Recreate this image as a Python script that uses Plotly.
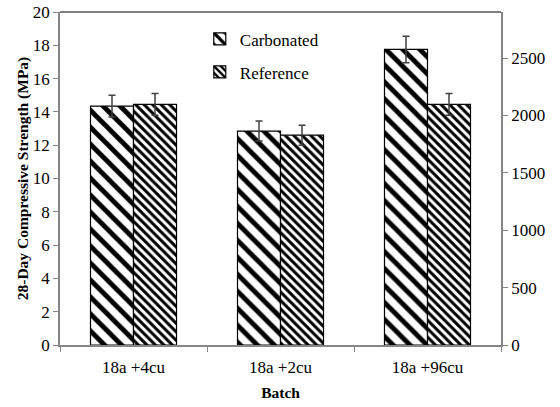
import plotly.graph_objects as go

batches = ["18a +4cu", "18a +2cu", "18a +96cu"]
carbonated = [14.35, 12.85, 17.75]
carbonated_err = [0.65, 0.6, 0.8]
reference = [14.45, 12.6, 14.45]
reference_err = [0.65, 0.6, 0.65]
psi_ticks = [0, 500, 1000, 1500, 2000, 2500]

FONT = "Liberation Serif"
GRAY = "#868686"

fig = go.Figure()
fig.add_trace(go.Bar(
    x=batches, y=carbonated, name="Carbonated", legendgroup="a",
    marker=dict(color="white", line=dict(color="black", width=1.2),
                pattern=dict(shape="\\", size=12, solidity=0.4, fgcolor="black", bgcolor="white",
                             fgopacity=1, fillmode="replace")),
    error_y=dict(type="data", array=carbonated_err, color="#404040", thickness=1.5, width=3.5),
))
fig.add_trace(go.Bar(
    x=batches, y=reference, name="Reference", legendgroup="b",
    marker=dict(color="white", line=dict(color="black", width=1.2),
                pattern=dict(shape="\\", size=6, solidity=0.5, fgcolor="black", bgcolor="white",
                             fgopacity=1, fillmode="replace")),
    error_y=dict(type="data", array=reference_err, color="#404040", thickness=1.5, width=3.5),
))
# invisible trace for secondary axis
fig.add_trace(go.Scatter(x=batches, y=[None, None, None], yaxis="y2", showlegend=False, hoverinfo="skip"))

fig.update_layout(
    template="none",
    width=560, height=407,
    margin=dict(l=60, r=59, t=12, b=62, autoexpand=False),
    paper_bgcolor="white", plot_bgcolor="white",
    font=dict(family=FONT, color="black", size=17),
    barmode="group", bargap=0.415, bargroupgap=0,
    showlegend=True,
    legend=dict(x=0.317, y=0.972, xanchor="left", yanchor="top", bgcolor="rgba(0,0,0,0)",
                font=dict(size=17, family=FONT, color="black"), tracegroupgap=8, itemwidth=30),
    xaxis=dict(showline=True, linecolor=GRAY, linewidth=1.5, ticks="outside", tickson="boundaries",
               ticklen=5, tickcolor=GRAY, showgrid=False, zeroline=False, automargin=False,
               ticklabelstandoff=6,
               title=dict(text="<b>Batch</b>", font=dict(size=15.5, family=FONT), standoff=11),
               tickfont=dict(size=17, family=FONT, color="black")),
    yaxis=dict(range=[0, 20], dtick=2, showline=True, linecolor=GRAY, linewidth=1.5, ticks="outside",
               ticklen=5, tickcolor=GRAY, showgrid=False, zeroline=False, automargin=False,
               title=dict(text="<b>28-Day Compressive Strength (MPa)</b>", font=dict(size=15.5, family=FONT), standoff=0),
               tickfont=dict(size=17, family=FONT, color="black")),
    yaxis2=dict(range=[0, 20 * 145.0377], overlaying="y", side="right", tickvals=psi_ticks,
                showline=True, linecolor=GRAY, linewidth=1.5, ticks="outside", ticklen=5, tickcolor=GRAY,
                showgrid=False, zeroline=False, automargin=False,
                tickfont=dict(size=17, family=FONT, color="black")),
    shapes=[dict(type="line", xref="paper", yref="paper", x0=0, x1=1, y0=1, y1=1,
                 line=dict(color="black", width=1.2))],
)

fig.write_html("out.html", config={"displayModeBar": False},
               post_script="document.body.style.margin='0';document.body.style.padding='0';")
